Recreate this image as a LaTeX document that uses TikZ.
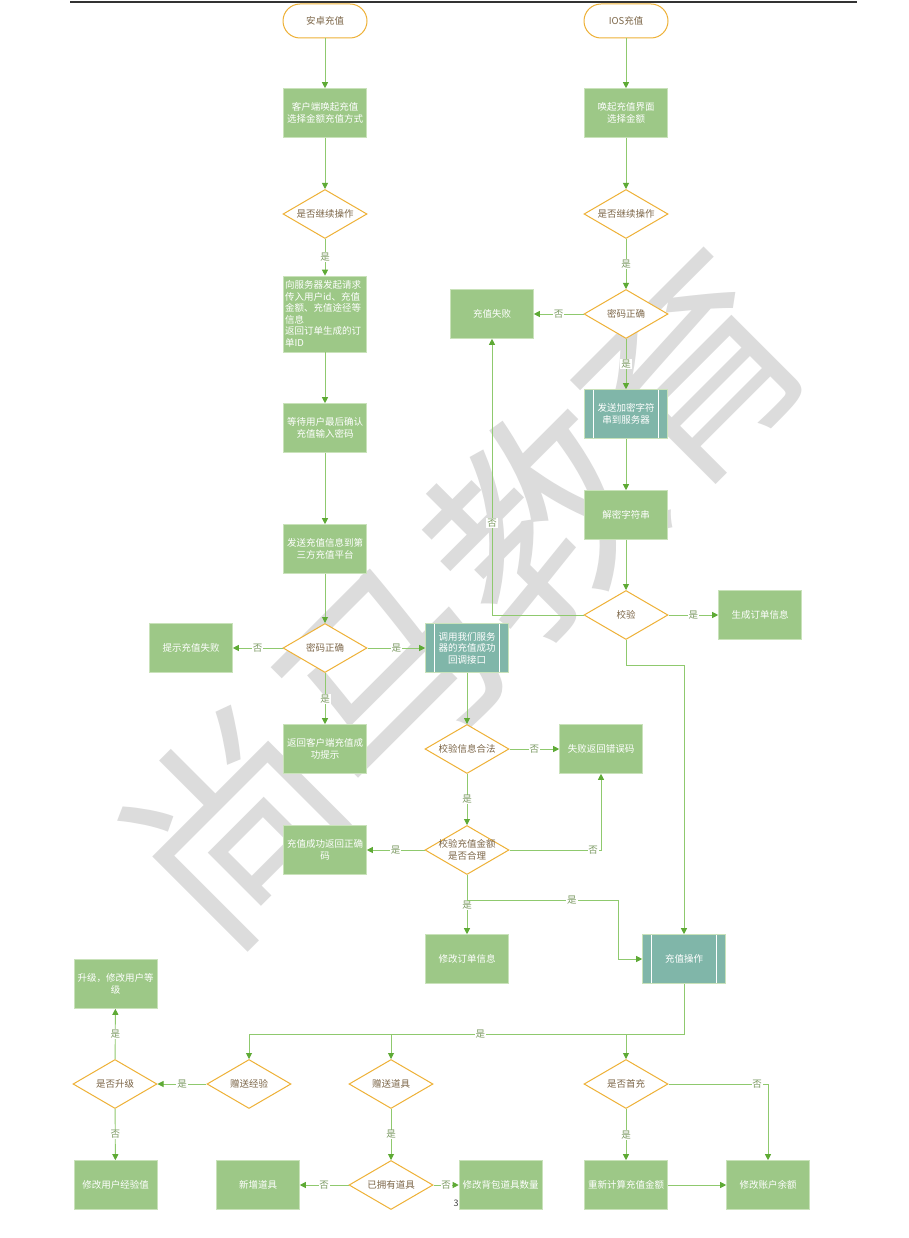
\documentclass[tikz,border=0pt]{standalone}
\usepackage{fontspec}
\setmainfont{Noto Sans CJK SC}
\newfontfamily\wmfont{Noto Sans CJK SC}
\usetikzlibrary{shapes.geometric,arrows.meta}
\definecolor{boxg}{HTML}{9DC887}
\definecolor{boxedge}{HTML}{C9E2BA}
\definecolor{tealb}{HTML}{80B6A9}
\definecolor{decedge}{HTML}{EEB137}
\definecolor{dectext}{HTML}{7D6749}
\definecolor{lineg}{HTML}{8FC96E}
\definecolor{arrowg}{HTML}{5EAA35}
\definecolor{labt}{HTML}{7C9A63}
\definecolor{wm}{HTML}{DCDCDC}
\begin{document}
\begin{tikzpicture}[x=1pt,y=-1pt,
  txt/.style={font=\fontsize{9.5}{11.5}\selectfont},
  box/.style={txt, rectangle, fill=boxg, draw=boxedge, line width=0.6pt,
    minimum width=83pt, minimum height=49pt, text=white, align=center, inner sep=1pt},
  sub/.style={box, fill=tealb,
    path picture={
      \draw[white, line width=0.9pt]
        ([xshift=9pt]path picture bounding box.north west) -- ([xshift=9pt]path picture bounding box.south west)
        ([xshift=-9pt]path picture bounding box.north east) -- ([xshift=-9pt]path picture bounding box.south east);}},
  dec/.style={txt, diamond, aspect=1.7, draw=decedge, line width=1pt, fill=white,
    minimum width=84pt, minimum height=49pt, text=dectext, align=center, inner sep=-4pt},
  term/.style={txt, rectangle, rounded corners=17pt, draw=decedge, line width=1pt, fill=white,
    minimum width=84pt, minimum height=34pt, text=dectext},
  conn/.style={draw=lineg, line width=0.9pt, -{Triangle[length=6pt,width=6pt,color=arrowg]}},
  lab/.style={txt, fill=white, text=labt, inner sep=0.8pt}
]
\useasboundingbox (0,0) rectangle (909,1238);
\fill[white] (0,0) rectangle (909,1238);
% watermark
\node[rotate=45, text=wm, inner sep=0pt, font=\wmfont\fontsize{215}{215}\selectfont] (wmark) at (463,596) {尚马教育};
\draw[black!80, line width=1.6pt] (70,2) -- (857,2);
\node[font=\fontsize{9}{9}\selectfont, text=black!75, inner sep=0pt] (pg) at (456,1203) {3};

% left column
\node[term] (a1) at (325,21) {安卓充值};
\node[box] (a2) at (325,113) {客户端唤起充值\\选择金额充值方式};
\node[dec] (a3) at (325,214) {是否继续操作};
\node[box, align=left, text width=80pt, minimum height=76pt] (a4) at (325,314)
  {向服务器发起请求\\传入用户id、充值\\金额、充值途径等\\信息\\返回订单生成的订\\单ID};
\node[box] (a5) at (325,428) {等待用户最后确认\\充值输入密码};
\node[box] (a6) at (325,549) {发送充值信息到第\\三方充值平台};
\node[dec] (a7) at (325,648) {密码正确};
\node[box] (a8) at (191,648) {提示充值失败};
\node[sub] (a9) at (467,648) {调用我们服务\\器的充值成功\\回调接口};
\node[box] (a10) at (325,749) {返回客户端充值成\\功提示};
\node[dec] (a11) at (467,749) {校验信息合法};
\node[box] (a12) at (601,749) {失败返回错误码};
\node[dec] (a13) at (467,850) {校验充值金额\\是否合理};
\node[box] (a14) at (325,850) {充值成功返回正确\\码};
\node[box] (a15) at (467,959) {修改订单信息};

% right column
\node[term] (b1) at (626,21) {IOS充值};
\node[box] (b2) at (626,113) {唤起充值界面\\选择金额};
\node[dec] (b3) at (626,214) {是否继续操作};
\node[dec] (b4) at (626,314) {密码正确};
\node[box] (b5) at (492,314) {充值失败};
\node[sub] (b6) at (626,414) {发送加密字符\\串到服务器};
\node[box] (b7) at (626,515) {解密字符串};
\node[dec] (b8) at (626,615) {校验};
\node[box] (b9) at (760,615) {生成订单信息};

% bottom
\node[sub] (c1) at (684,959) {充值操作};
\node[dec] (c2) at (249,1084) {赠送经验};
\node[dec] (c3) at (115,1084) {是否升级};
\node[box] (c4) at (115.5,984) {升级，修改用户等\\级};
\node[box] (c5) at (115.5,1185) {修改用户经验值};
\node[dec] (c6) at (391,1084) {赠送道具};
\node[dec] (c7) at (391,1185) {已拥有道具};
\node[box] (c8) at (258,1185) {新增道具};
\node[box] (c9) at (500.5,1185) {修改背包道具数量};
\node[dec] (c10) at (626,1084) {是否首充};
\node[box] (c11) at (626,1185) {重新计算充值金额};
\node[box] (c12) at (768,1185) {修改账户余额};

\coordinate (br1) at (467,900);
\coordinate (hub) at (684,1034);

% left connectors
\draw[conn] (a1) -- (a2);
\draw[conn] (a2) -- (a3);
\draw[conn] (a3) -- node[lab]{是} (a4);
\draw[conn] (a4) -- (a5);
\draw[conn] (a5) -- (a6);
\draw[conn] (a6) -- (a7);
\draw[conn] (a7) -- node[lab]{否} (a8);
\draw[conn] (a7) -- node[lab]{是} (a9);
\draw[conn] (a7) -- node[lab]{是} (a10);
\draw[conn] (a9) -- (a11);
\draw[conn] (a11) -- node[lab]{否} (a12);
\draw[conn] (a11) -- node[lab]{是} (a13);
\draw[conn] (a13) -- node[lab]{是} (a14);
\draw[conn] (a13.east) -| node[lab, pos=0.457]{否} (a12.south);
\draw[conn] (a13) -- node[lab]{是} (a15);
\draw[conn] (br1) -- node[lab, pos=0.695]{是} (618,900) |- (c1.west);

% right connectors
\draw[conn] (b1) -- (b2);
\draw[conn] (b2) -- (b3);
\draw[conn] (b3) -- node[lab]{是} (b4);
\draw[conn] (b4) -- node[lab]{否} (b5);
\draw[conn] (b4) -- node[lab]{是} (b6);
\draw[conn] (b6) -- (b7);
\draw[conn] (b7) -- (b8);
\draw[conn] (b8) -- node[lab]{是} (b9);
\draw[conn] (b8.west) -| node[lab, pos=0.666]{否} (b5.south);
\draw[conn] (b8.south) -- ++(0,25) -| (c1.north);

% bottom connectors
\draw[conn] (c1.south) -- (hub) -| node[lab, pos=0.234]{是} (c2.north);
\draw[conn] (hub -| c6.north) -- (c6.north);
\draw[conn] (hub -| c10.north) -- (c10.north);
\draw[conn] (c2) -- node[lab]{是} (c3);
\draw[conn] (c3) -- node[lab]{是} (c4);
\draw[conn] (c3) -- node[lab]{否} (c5);
\draw[conn] (c6) -- node[lab]{是} (c7);
\draw[conn] (c7) -- node[lab]{否} (c8);
\draw[conn] (c7) -- node[lab]{否} (c9);
\draw[conn] (c10) -- node[lab]{是} (c11);
\draw[conn] (c10.east) -| node[lab, pos=0.445]{否} (c12.north);
\draw[conn] (c11) -- (c12);
\end{tikzpicture}
\end{document}
